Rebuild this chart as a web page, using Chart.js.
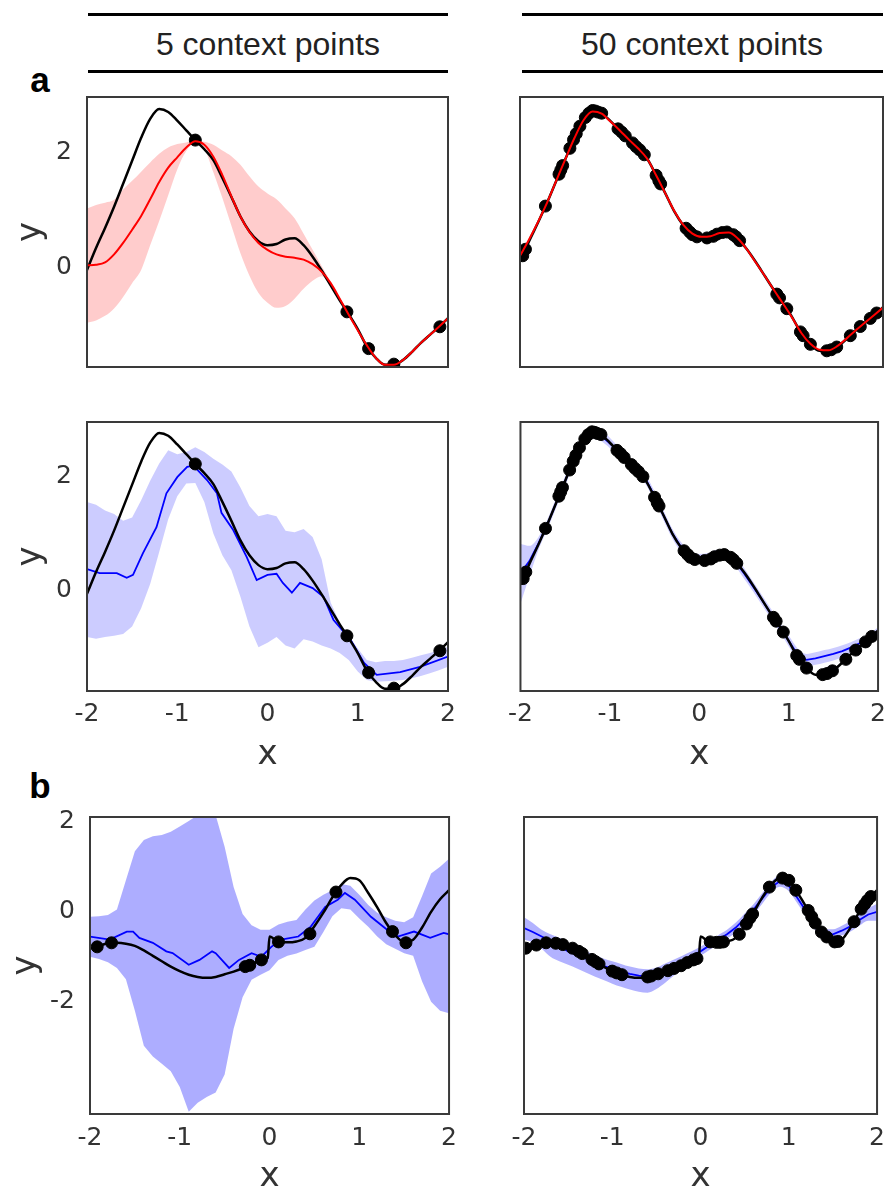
<!DOCTYPE html>
<html>
<head>
<meta charset="utf-8">
<title>Context points</title>
<script src="https://cdn.jsdelivr.net/npm/chart.js@4.4.1/dist/chart.umd.min.js"></script>
<style>
    html, body { margin: 0; padding: 0; background: #fff; overflow: hidden; }
    body { position: relative; width: 894px; height: 1192px; font-family: "Liberation Sans", Arial, sans-serif; }
    canvas { position: absolute; }
    .rule { position: absolute; height: 3px; background: #000; }
    .head { position: absolute; font-size: 32px; line-height: 1; color: #222; transform: translate(-50%, -50%); white-space: nowrap; }
    .tag { position: absolute; font-size: 35px; line-height: 1; font-weight: bold; color: #000; transform: translate(-50%, -50%); }
</style>
</head>
<body>
<div class="rule" style="left:88px;top:13px;width:360px"></div>
<div class="rule" style="left:88px;top:70px;width:360px"></div>
<div class="head" style="left:268px;top:44px">5 context points</div>
<div class="rule" style="left:522px;top:13px;width:361px"></div>
<div class="rule" style="left:522px;top:70px;width:361px"></div>
<div class="head" style="left:702px;top:44px">50 context points</div>
<div class="tag" style="left:40px;top:79px">a</div>
<div class="tag" style="left:40px;top:785px">b</div>

<canvas id="p1" width="466" height="285" style="left:0px;top:90px"></canvas>
<canvas id="p2" width="394" height="285" style="left:500px;top:90px"></canvas>
<canvas id="p3" width="466" height="360" style="left:0px;top:415px"></canvas>
<canvas id="p4" width="394" height="360" style="left:500px;top:415px"></canvas>
<canvas id="p5" width="466" height="382" style="left:0px;top:810px"></canvas>
<canvas id="p6" width="394" height="382" style="left:500px;top:810px"></canvas>

<script>
// x positions shared by the smooth curves and bands
const xGrid = [-2, -1.9, -1.8, -1.7, -1.6, -1.5, -1.4, -1.3, -1.2, -1.1, -1, -0.9, -0.8, -0.7, -0.6, -0.5, -0.4, -0.3, -0.2, -0.1,
    0, 0.1, 0.2, 0.3, 0.4, 0.5, 0.6, 0.7, 0.8, 0.9, 1, 1.1, 1.2, 1.3, 1.4, 1.5, 1.6, 1.7, 1.8, 1.9, 2];
const xTicks = [-2, -1, 0, 1, 2];
const yTicksA = [0, 2];
const yTicksB = [-2, 0, 2];

// panel a: ground truth
const truthA = [-0.05, 0.33, 0.68, 1.05, 1.45, 1.85, 2.25, 2.58, 2.75, 2.70, 2.55, 2.38, 2.21, 2.05, 1.86, 1.55, 1.22, 0.88, 0.62, 0.45,
    0.38, 0.40, 0.48, 0.50, 0.38, 0.18, -0.06, -0.32, -0.58, -0.82, -1.08, -1.38, -1.58, -1.70, -1.70, -1.62, -1.48, -1.32, -1.18, -1.04, -0.89];

// panel a: context points
const ctxA5X = [-0.80, 0.88, 1.12, 1.40, 1.91];
const ctxA5Y = [2.21, -0.78, -1.42, -1.69, -1.04];
const ctxA50X = [-1.97, -1.94, -1.72, -1.57, -1.55, -1.53, -1.45, -1.41, -1.38, -1.34, -1.28, -1.24, -1.20, -1.17, -1.14, -1.10, -0.92, -0.88, -0.84, -0.76,
    -0.72, -0.68, -0.63, -0.50, -0.47, -0.45, -0.17, -0.13, -0.10, -0.05, 0.06, 0.13, 0.17, 0.23, 0.28, 0.35, 0.38, 0.42, 0.83, 0.86,
    0.94, 1.09, 1.12, 1.20, 1.38, 1.43, 1.49, 1.64, 1.75, 1.86, 1.93];
const ctxA50Y = [0.06, 0.18, 0.98, 1.57, 1.65, 1.73, 2.05, 2.21, 2.32, 2.46, 2.62, 2.70, 2.75, 2.74, 2.72, 2.70, 2.41, 2.35, 2.28, 2.15,
    2.08, 2.02, 1.93, 1.55, 1.45, 1.39, 0.57, 0.50, 0.45, 0.41, 0.39, 0.42, 0.46, 0.49, 0.50, 0.45, 0.41, 0.34, -0.65, -0.72,
    -0.92, -1.35, -1.42, -1.58, -1.70, -1.68, -1.63, -1.42, -1.25, -1.10, -1.00];

// panel a, top row: red model
const redMean5 = [0.03, 0.04, 0.08, 0.22, 0.42, 0.65, 0.89, 1.18, 1.48, 1.73, 1.91, 2.08, 2.19, 2.13, 1.92, 1.60, 1.23, 0.88, 0.61, 0.42,
    0.30, 0.22, 0.18, 0.16, 0.13, 0.05, -0.08, -0.28, -0.55, -0.83, -1.10, -1.36, -1.58, -1.70, -1.70, -1.62, -1.48, -1.32, -1.18, -1.04, -0.89];
const redUpper5 = [1.02, 1.08, 1.12, 1.17, 1.35, 1.50, 1.66, 1.82, 1.97, 2.08, 2.14, 2.17, 2.21, 2.18, 2.13, 2.03, 1.93, 1.78, 1.58, 1.40,
    1.28, 1.18, 1.02, 0.85, 0.58, 0.30, 0.02, -0.25, -0.53, -0.81, -1.08, -1.34, -1.56, -1.68, -1.68, -1.60, -1.46, -1.30, -1.16, -1.02, -0.87];
const redLower5 = [-0.97, -0.93, -0.85, -0.72, -0.52, -0.28, -0.05, 0.38, 0.80, 1.25, 1.70, 2.02, 2.17, 2.06, 1.65, 1.20, 0.72, 0.24, -0.15, -0.45,
    -0.62, -0.71, -0.68, -0.55, -0.38, -0.24, -0.16, -0.31, -0.57, -0.85, -1.12, -1.38, -1.60, -1.72, -1.72, -1.64, -1.50, -1.34, -1.20, -1.06, -0.91];
const redMean50 = [0.06, 0.36, 0.69, 1.05, 1.45, 1.85, 2.24, 2.57, 2.73, 2.69, 2.54, 2.38, 2.21, 2.05, 1.86, 1.55, 1.22, 0.89, 0.63, 0.47,
    0.41, 0.42, 0.48, 0.49, 0.38, 0.18, -0.07, -0.32, -0.58, -0.83, -1.09, -1.37, -1.57, -1.68, -1.69, -1.61, -1.47, -1.32, -1.18, -1.04, -0.90];

// panel a, bottom row: blue model
const blueMean5X = [-2, -1.86, -1.67, -1.56, -1.49, -1.38, -1.23, -1.12, -1.0, -0.89, -0.82, -0.67, -0.56, -0.51, -0.38, -0.23, -0.12, 0.0, 0.10, 0.17,
    0.27, 0.36, 0.50, 0.62, 0.73, 0.92, 1.07, 1.21, 1.47, 1.69, 2.0];
const blueMean5Y = [0.38, 0.31, 0.31, 0.23, 0.28, 0.66, 1.11, 1.70, 1.98, 2.16, 2.18, 1.93, 1.70, 1.36, 1.06, 0.59, 0.19, 0.28, 0.30, 0.14,
    -0.03, 0.14, 0.05, -0.10, -0.50, -0.85, -1.25, -1.46, -1.41, -1.32, -1.14];
const blueUpper5 = [1.55, 1.50, 1.40, 1.34, 1.22, 1.28, 1.58, 1.92, 2.22, 2.45, 2.38, 2.42, 2.50, 2.42, 2.30, 2.20, 2.08, 1.80, 1.48, 1.30,
    1.34, 1.30, 1.05, 1.02, 1.08, 0.94, 0.55, -0.20, -0.55, -0.78, -1.00, -1.20, -1.24, -1.22, -1.22, -1.20, -1.16, -1.12, -1.08, -1.03, -0.97];
const blueLower5 = [-0.80, -0.83, -0.80, -0.78, -0.75, -0.62, -0.30, 0.12, 0.68, 1.25, 1.65, 1.87, 1.88, 1.55, 1.00, 0.62, 0.36, -0.10, -0.62, -0.98,
    -0.90, -0.80, -0.95, -1.00, -0.84, -0.88, -0.95, -1.00, -1.08, -1.20, -1.40, -1.55, -1.58, -1.57, -1.56, -1.55, -1.52, -1.48, -1.43, -1.38, -1.32];
const blueMean50 = [0.16, 0.38, 0.70, 1.05, 1.45, 1.85, 2.25, 2.56, 2.72, 2.68, 2.54, 2.38, 2.22, 2.07, 1.88, 1.57, 1.22, 0.88, 0.63, 0.47,
    0.42, 0.44, 0.50, 0.50, 0.38, 0.16, -0.08, -0.33, -0.58, -0.83, -1.08, -1.33, -1.43, -1.40, -1.36, -1.32, -1.27, -1.20, -1.12, -1.04, -0.92];
const blueUpper50 = [0.70, 0.66, 0.82, 1.14, 1.54, 1.94, 2.34, 2.66, 2.84, 2.80, 2.64, 2.47, 2.31, 2.16, 1.97, 1.66, 1.31, 0.97, 0.72, 0.56,
    0.51, 0.53, 0.59, 0.59, 0.47, 0.26, 0.01, -0.24, -0.49, -0.74, -0.98, -1.22, -1.32, -1.29, -1.25, -1.21, -1.16, -1.10, -1.03, -0.95, -0.83];
const blueLower50 = [-0.40, 0.10, 0.58, 0.96, 1.36, 1.76, 2.16, 2.46, 2.62, 2.58, 2.45, 2.29, 2.13, 1.98, 1.79, 1.48, 1.13, 0.79, 0.54, 0.38,
    0.33, 0.35, 0.41, 0.41, 0.29, 0.06, -0.17, -0.42, -0.67, -0.92, -1.18, -1.44, -1.55, -1.52, -1.48, -1.44, -1.38, -1.30, -1.21, -1.13, -1.01];

// panel b: ground truth (jump at x = 0)
const truthBX = [-2, -1.9, -1.8, -1.7, -1.6, -1.5, -1.4, -1.3, -1.2, -1.1, -1, -0.9, -0.8, -0.7, -0.6, -0.5, -0.4, -0.3, -0.2, -0.1,
    -0.02, 0, 0.1, 0.2, 0.3, 0.4, 0.5, 0.6, 0.7, 0.8, 0.9, 1, 1.1, 1.2, 1.3, 1.4, 1.5, 1.6, 1.7, 1.8, 1.9, 2];
const truthBY = [-0.82, -0.76, -0.70, -0.69, -0.71, -0.76, -0.86, -0.98, -1.10, -1.22, -1.32, -1.40, -1.45, -1.47, -1.45, -1.39, -1.33, -1.26, -1.18, -1.08,
    -1.03, -0.55, -0.67, -0.68, -0.66, -0.58, -0.32, -0.02, 0.32, 0.60, 0.75, 0.70, 0.42, 0.10, -0.25, -0.52, -0.67, -0.62, -0.35, 0.00, 0.28, 0.48];

// panel b: context points
const ctxBLeftX = [-1.92, -1.76, -0.27, -0.22, -0.09, 0.10, 0.45, 0.74, 1.37, 1.52];
const ctxBLeftY = [-0.78, -0.69, -1.22, -1.19, -1.07, -0.67, -0.49, 0.44, -0.44, -0.69];
const ctxB50X = [-1.98, -1.86, -1.75, -1.64, -1.56, -1.45, -1.38, -1.34, -1.23, -1.19, -1.15, -1.00, -0.95, -0.89, -0.60, -0.56, -0.48, -0.37, -0.30, -0.22,
    -0.15, -0.08, -0.04, 0.11, 0.18, 0.22, 0.26, 0.44, 0.52, 0.56, 0.59, 0.78, 0.93, 1.00, 1.08, 1.22, 1.26, 1.30, 1.37, 1.43,
    1.52, 1.56, 1.74, 1.82, 1.86, 1.89, 1.93];
const ctxB50Y = [-0.81, -0.74, -0.69, -0.70, -0.73, -0.81, -0.88, -0.93, -1.06, -1.11, -1.16, -1.32, -1.36, -1.40, -1.45, -1.43, -1.38, -1.31, -1.26, -1.20,
    -1.13, -1.07, -1.04, -0.67, -0.68, -0.68, -0.67, -0.50, -0.27, -0.14, -0.05, 0.55, 0.75, 0.70, 0.48, 0.03, -0.11, -0.25, -0.45, -0.56,
    -0.67, -0.66, -0.22, 0.06, 0.17, 0.25, 0.34];

// panel b: blue model
const blueMeanBX = [-2, -1.78, -1.59, -1.52, -1.45, -1.30, -1.15, -1.08, -0.90, -0.78, -0.64, -0.60, -0.45, -0.34, -0.20, -0.09, 0.02, 0.13, 0.32, 0.46,
    0.62, 0.76, 0.84, 0.95, 1.13, 1.31, 1.43, 1.61, 1.79, 1.94, 2.0];
const blueMeanBY = [-0.55, -0.62, -0.44, -0.44, -0.58, -0.69, -0.88, -0.92, -1.18, -1.07, -0.88, -0.92, -1.25, -1.07, -0.92, -1.00, -0.78, -0.62, -0.55, -0.33,
    0.11, 0.27, 0.42, 0.27, -0.11, -0.40, -0.55, -0.44, -0.58, -0.47, -0.50];
const blueUpperB = [-0.11, -0.10, -0.07, 0.05, 0.70, 1.35, 1.60, 1.68, 1.71, 1.78, 1.90, 2.02, 2.15, 2.30, 2.15, 1.45, 0.55, -0.05, -0.30, -0.40,
    -0.40, -0.28, -0.22, -0.18, 0.05, 0.25, 0.38, 0.48, 0.62, 0.58, 0.38, 0.15, -0.02, -0.12, -0.20, -0.23, -0.12, 0.35, 0.85, 1.00, 1.18];
const blueLowerB = [-1.00, -1.05, -1.12, -1.25, -1.50, -2.20, -2.98, -3.22, -3.38, -3.55, -3.90, -4.45, -4.25, -4.12, -4.02, -3.62, -2.60, -1.90, -1.51, -1.40,
    -1.30, -1.07, -0.98, -0.93, -0.85, -0.78, -0.45, -0.10, 0.08, 0.05, -0.15, -0.33, -0.55, -0.72, -0.82, -0.92, -0.98, -1.55, -2.00, -2.20, -2.26];
const blueMeanB50 = [-0.36, -0.45, -0.55, -0.65, -0.76, -0.88, -0.96, -1.04, -1.12, -1.20, -1.27, -1.33, -1.38, -1.42, -1.44, -1.38, -1.28, -1.18, -1.08, -0.98,
    -0.88, -0.75, -0.62, -0.50, -0.35, -0.15, 0.05, 0.30, 0.55, 0.68, 0.58, 0.30, 0.00, -0.30, -0.48, -0.50, -0.42, -0.32, -0.18, -0.06, 0.00];
const blueUpperB50 = [-0.12, -0.25, -0.40, -0.50, -0.58, -0.68, -0.78, -0.88, -0.96, -1.04, -1.10, -1.16, -1.22, -1.26, -1.28, -1.24, -1.15, -1.06, -0.97, -0.88,
    -0.78, -0.65, -0.52, -0.40, -0.24, -0.04, 0.17, 0.42, 0.67, 0.80, 0.70, 0.42, 0.11, -0.19, -0.37, -0.39, -0.31, -0.20, -0.05, 0.08, 0.18];
const blueLowerB50 = [-0.62, -0.68, -0.82, -1.00, -1.10, -1.18, -1.26, -1.35, -1.44, -1.52, -1.60, -1.67, -1.73, -1.78, -1.80, -1.72, -1.58, -1.42, -1.28, -1.12,
    -0.98, -0.85, -0.72, -0.60, -0.46, -0.26, -0.07, 0.18, 0.43, 0.56, 0.46, 0.18, -0.11, -0.41, -0.59, -0.61, -0.53, -0.44, -0.31, -0.20, -0.20];

const RED = '#ff0000';
const BLUE = '#0000ff';
const TEXT = '#333333';

function pts(xs, ys) {
    return xs.map((x, i) => ({ x: x, y: ys[i] }));
}

function curve(xs, ys, color, width, order, smooth) {
    return {
        data: pts(xs, ys),
        borderColor: color,
        borderWidth: width,
        pointRadius: 0,
        fill: false,
        order: order,
        tension: 0,
        cubicInterpolationMode: smooth ? 'monotone' : 'default'
    };
}

// lower edge + upper edge, the upper one filled down to the lower one
function band(xs, lower, upper, color, smooth) {
    const mode = smooth ? 'monotone' : 'default';
    return [
        { data: pts(xs, lower), borderColor: 'rgba(0,0,0,0)', borderWidth: 0, pointRadius: 0, fill: false, order: 9, tension: 0, cubicInterpolationMode: mode },
        { data: pts(xs, upper), borderColor: 'rgba(0,0,0,0)', borderWidth: 0, pointRadius: 0, fill: '-1', backgroundColor: color, order: 9, tension: 0, cubicInterpolationMode: mode }
    ];
}

function dots(xs, ys, order) {
    return {
        data: pts(xs, ys),
        showLine: false,
        pointRadius: 6,
        pointBackgroundColor: '#000',
        pointBorderColor: '#000',
        pointBorderWidth: 1,
        order: order
    };
}

// frame around the plotting area
const boxPlugin = {
    id: 'box',
    afterDraw(chart) {
        const { ctx, chartArea: a } = chart;
        ctx.save();
        ctx.strokeStyle = '#3a3a3a';
        ctx.lineWidth = 2;
        ctx.strokeRect(a.left, a.top, a.right - a.left, a.bottom - a.top);
        ctx.restore();
    }
};

function makePanel(id, cfg) {
    const ctx = document.getElementById(id).getContext('2d');
    return new Chart(ctx, {
        type: 'line',
        data: { datasets: cfg.datasets },
        plugins: [boxPlugin],
        options: {
            responsive: false,
            animation: false,
            devicePixelRatio: 1,
            events: [],
            layout: { padding: cfg.pad },
            plugins: { legend: { display: false }, tooltip: { enabled: false } },
            scales: {
                x: {
                    type: 'linear',
                    min: -2,
                    max: 2,
                    display: cfg.showX,
                    afterBuildTicks: (s) => { s.ticks = xTicks.map(v => ({ value: v })); },
                    afterFit: (s) => { s.height = cfg.showX ? cfg.xHeight : 0; },
                    grid: { display: false, drawTicks: false },
                    border: { display: false },
                    ticks: {
                        padding: cfg.xTickPad || 0,
                        color: TEXT,
                        autoSkip: false,
                        maxRotation: 0,
                        font: { family: 'DejaVu Sans', size: 25 },
                        callback: (v) => String(v)
                    },
                    title: {
                        display: true,
                        text: 'x',
                        color: TEXT,
                        font: { family: 'DejaVu Sans', size: 34, lineHeight: 0.8 },
                        padding: { top: 0, bottom: cfg.xTitlePad || 0 }
                    }
                },
                y: {
                    type: 'linear',
                    min: cfg.yRange[0],
                    max: cfg.yRange[1],
                    display: cfg.showY,
                    afterBuildTicks: (s) => { s.ticks = cfg.yTicks.map(v => ({ value: v })); },
                    afterFit: (s) => {
                        // fixed axis width, and no extra room for the labels above/below
                        s.width = cfg.showY ? cfg.yWidth : 0;
                        s.paddingTop = 0;
                        s.paddingBottom = 0;
                    },
                    grid: { display: false, drawTicks: false },
                    border: { display: false },
                    ticks: {
                        padding: 15,
                        color: TEXT,
                        font: { family: 'DejaVu Sans', size: 25 },
                        callback: (v) => String(v)
                    },
                    title: {
                        display: true,
                        text: 'y',
                        color: TEXT,
                        font: { family: 'DejaVu Sans', size: 34, lineHeight: 0.8 },
                        padding: { top: cfg.yTitlePad || 0, bottom: 0 }
                    }
                }
            }
        }
    });
}

// a, 5 context points, red model
makePanel('p1', {
    yRange: [-1.74, 2.96], yTicks: yTicksA, showX: false, showY: true,
    pad: { top: 7, right: 18, bottom: 8, left: 0 }, yWidth: 87, yTitlePad: 18,
    datasets: [
        ...band(xGrid, redLower5, redUpper5, 'rgba(255,0,0,0.2)', true),
        curve(xGrid, truthA, '#000', 2.5, 3, true),
        dots(ctxA5X, ctxA5Y, 2),
        curve(xGrid, redMean5, RED, 2, 1, true)
    ]
});

// a, 50 context points, red model
makePanel('p2', {
    yRange: [-2.0, 3.0], yTicks: yTicksA, showX: false, showY: false,
    pad: { top: 7, right: 11, bottom: 8, left: 20 },
    datasets: [
        curve(xGrid, truthA, '#000', 2.5, 3, true),
        dots(ctxA50X, ctxA50Y, 2),
        curve(xGrid, redMean50, RED, 2, 1, true)
    ]
});

// a, 5 context points, blue model
makePanel('p3', {
    yRange: [-1.74, 2.94], yTicks: yTicksA, showX: true, showY: true,
    pad: { top: 7, right: 18, bottom: 0, left: 0 }, yWidth: 87, yTitlePad: 18,
    xHeight: 84, xTickPad: 8, xTitlePad: 6,
    datasets: [
        ...band(xGrid, blueLower5, blueUpper5, 'rgba(0,0,255,0.2)', false),
        curve(blueMean5X, blueMean5Y, BLUE, 1.8, 3, false),
        curve(xGrid, truthA, '#000', 2.5, 2, true),
        dots(ctxA5X, ctxA5Y, 1)
    ]
});

// a, 50 context points, blue model
makePanel('p4', {
    yRange: [-2.0, 2.93], yTicks: yTicksA, showX: true, showY: false,
    pad: { top: 7, right: 11, bottom: 0, left: 20 },
    xHeight: 84, xTickPad: 8, xTitlePad: 6,
    datasets: [
        ...band(xGrid, blueLower50, blueUpper50, 'rgba(0,0,255,0.2)', true),
        curve(xGrid, blueMean50, BLUE, 1.8, 3, false),
        curve(xGrid, truthA, '#000', 2.5, 2, true),
        dots(ctxA50X, ctxA50Y, 1)
    ]
});

// b, 5 context points
makePanel('p5', {
    yRange: [-4.5, 2.11], yTicks: yTicksB, showX: true, showY: true,
    pad: { top: 7, right: 14, bottom: 0, left: 0 }, yWidth: 90, yTitlePad: 13,
    xHeight: 78, xTickPad: 9, xTitlePad: 1,
    datasets: [
        ...band(xGrid, blueLowerB, blueUpperB, 'rgba(0,0,255,0.32)', false),
        curve(blueMeanBX, blueMeanBY, BLUE, 1.8, 3, false),
        curve(truthBX, truthBY, '#000', 2.5, 2, true),
        dots(ctxBLeftX, ctxBLeftY, 1)
    ]
});

// b, 50 context points
makePanel('p6', {
    yRange: [-4.5, 2.11], yTicks: yTicksB, showX: true, showY: false,
    pad: { top: 7, right: 11, bottom: 0, left: 24 },
    xHeight: 78, xTickPad: 9, xTitlePad: 1,
    datasets: [
        ...band(xGrid, blueLowerB50, blueUpperB50, 'rgba(0,0,255,0.3)', true),
        curve(xGrid, blueMeanB50, BLUE, 1.8, 3, false),
        curve(truthBX, truthBY, '#000', 2.5, 2, true),
        dots(ctxB50X, ctxB50Y, 1)
    ]
});
</script>
</body>
</html>
